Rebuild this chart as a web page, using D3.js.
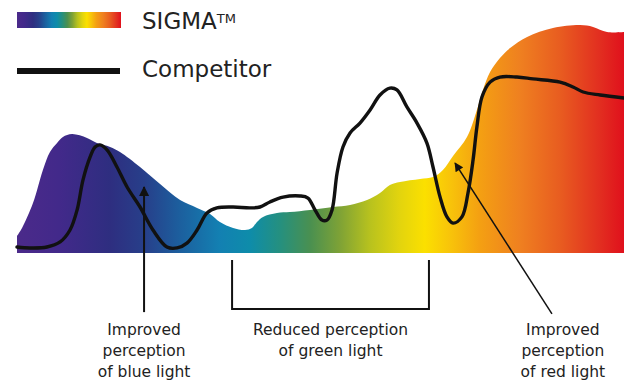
<!DOCTYPE html>
<html>
<head>
<meta charset="utf-8">
<script src="https://cdn.jsdelivr.net/npm/d3@7"></script>
<style>
  html, body { margin: 0; padding: 0; background: #fff; }
  svg { display: block; }
  text { font-family: "DejaVu Sans", sans-serif; fill: #222; }
</style>
</head>
<body>
<svg id="chart" width="624" height="385"></svg>
<script>
// Spectrum (wavelength in nm) and relative intensity of each light source
const sigmaWavelength = [400, 402.5, 407.9, 412.8, 416.3, 419.8, 422.7, 427.2, 434.6, 439.5,
  446.0, 450.9, 460.8, 470.7, 480.6, 489.0, 495.4, 500.3, 506.8, 512.7,
  516.1, 518.6, 521.6, 528.5, 534.9, 544.8, 556.2, 564.6, 573.0, 579.4,
  584.3, 589.3, 599.2, 605.6, 610.5, 615.5, 622.4, 627.3, 630.3, 633.8,
  638.7, 643.7, 652.1, 664.9, 678.3, 684.7, 691.6, 700];
const sigmaIntensity = [7.4, 10.9, 21.7, 36.1, 43.9, 47.8, 50.4, 51.7, 50.0, 47.8,
  46.1, 43.9, 37.4, 30.0, 23.0, 19.6, 17.0, 13.5, 10.9, 10.0,
  10.9, 13.5, 15.7, 17.4, 17.8, 18.7, 20.0, 20.9, 23.0, 26.1,
  29.6, 30.9, 32.2, 33.0, 36.1, 42.2, 50.4, 62.2, 70.9, 78.7,
  84.8, 89.1, 93.9, 97.8, 99.1, 98.3, 96.1, 96.1];

const competitorWavelength = [400, 406.4, 414.8, 421.3, 426.2, 429.7, 432.6, 436.1, 438.6, 441.0,
  444.5, 449.4, 454.4, 460.8, 467.2, 474.1, 479.1, 484.0, 489.0, 493.9,
  498.8, 506.8, 515.2, 520.1, 525.0, 531.5, 539.9, 543.8, 547.3, 550.7,
  553.2, 555.7, 558.2, 561.1, 564.6, 569.5, 574.5, 579.4, 584.3, 587.8,
  592.7, 597.7, 602.6, 605.6, 609.1, 612.5, 615.5, 619.9, 622.9, 625.4,
  627.3, 629.8, 633.8, 638.7, 647.1, 655.0, 668.4, 674.8, 679.8, 688.2, 700];
const competitorIntensity = [2.6, 2.2, 2.6, 4.8, 10.0, 18.7, 31.7, 41.7, 46.1, 47.0,
  44.8, 37.4, 28.7, 20.0, 10.0, 2.6, 2.2, 4.3, 10.0, 17.4,
  19.6, 20.0, 19.6, 20.0, 22.2, 24.3, 24.8, 23.9, 18.7, 14.3,
  14.3, 18.7, 34.8, 46.1, 52.2, 56.5, 62.2, 68.7, 71.7, 70.9,
  63.5, 56.5, 47.8, 37.4, 24.3, 15.7, 13.0, 15.7, 26.1, 40.4,
  54.8, 67.8, 74.3, 76.5, 76.5, 75.7, 74.3, 72.2, 70.0, 68.7, 67.4];

const seriesNames = ["SIGMA", "Competitor"];

// Colour of the visible spectrum along the wavelength axis
const spectrumStops = [
  [400, "#4b2a8a"], [421, "#42298a"], [446, "#2e2e80"], [463, "#273f8a"],
  [480.5, "#1c5f9e"], [500, "#1380b2"], [515, "#0e8caa"], [530, "#25907f"],
  [545, "#4a9050"], [559.5, "#7ea236"], [574.5, "#b8c21e"], [589, "#e2d40e"],
  [601.5, "#fbe000"], [614, "#f8c40a"], [628.5, "#f4a012"], [648.5, "#ef8020"],
  [668.5, "#e85c20"], [688, "#e22e20"], [700, "#e0101c"]
];

const sigma = sigmaWavelength.map((w, i) => ({ w, v: sigmaIntensity[i] }));
const competitor = competitorWavelength.map((w, i) => ({ w, v: competitorIntensity[i] }));

const svg = d3.select("#chart");
const x = d3.scaleLinear().domain([400, 700]).range([17, 624]);
const y = d3.scaleLinear().domain([0, 100]).range([253, 23]);

const defs = svg.append("defs");

// Gradient across the plotting area
const spec = defs.append("linearGradient")
  .attr("id", "spectrum")
  .attr("gradientUnits", "userSpaceOnUse")
  .attr("x1", x(400)).attr("x2", x(700)).attr("y1", 0).attr("y2", 0);
spec.selectAll("stop").data(spectrumStops).join("stop")
  .attr("offset", d => (d[0] - 400) / 300)
  .attr("stop-color", d => d[1]);

// Same colours for the legend swatch
const specLegend = defs.append("linearGradient")
  .attr("id", "spectrumLegend")
  .attr("x1", 0).attr("x2", 1).attr("y1", 0).attr("y2", 0);
specLegend.selectAll("stop").data(spectrumStops).join("stop")
  .attr("offset", d => (d[0] - 400) / 300)
  .attr("stop-color", d => d[1]);

defs.append("marker")
  .attr("id", "arrowHead")
  .attr("viewBox", "0 0 10 10")
  .attr("refX", 9).attr("refY", 5)
  .attr("markerWidth", 5).attr("markerHeight", 5)
  .attr("markerUnits", "strokeWidth")
  .attr("orient", "auto")
  .append("path").attr("d", "M0,0 L10,5 L0,10 Z").attr("fill", "#111");

defs.append("marker")
  .attr("id", "arrowHeadThin")
  .attr("viewBox", "0 0 10 10")
  .attr("refX", 9).attr("refY", 5)
  .attr("markerWidth", 7).attr("markerHeight", 6)
  .attr("markerUnits", "strokeWidth")
  .attr("orient", "auto")
  .append("path").attr("d", "M0,0 L10,5 L0,10 Z").attr("fill", "#111");

// SIGMA spectrum as a filled area
const area = d3.area()
  .x(d => x(d.w))
  .y0(y(0))
  .y1(d => y(d.v))
  .curve(d3.curveCatmullRom.alpha(0.5));

svg.append("path")
  .datum(sigma)
  .attr("d", area)
  .attr("fill", "url(#spectrum)");

// Competitor spectrum as a line
const line = d3.line()
  .x(d => x(d.w))
  .y(d => y(d.v))
  .curve(d3.curveCatmullRom.alpha(0.5));

svg.append("path")
  .datum(competitor)
  .attr("d", line)
  .attr("fill", "none")
  .attr("stroke", "#111")
  .attr("stroke-width", 3.4)
  .attr("stroke-linejoin", "round")
  .attr("stroke-linecap", "round");

// Annotations
const ann = svg.append("g");

// Blue: vertical arrow pointing up into the blue region
ann.append("line")
  .attr("x1", x(462.8)).attr("x2", x(462.8))
  .attr("y1", y(-25.7)).attr("y2", y(28.7))
  .attr("stroke", "#111").attr("stroke-width", 2)
  .attr("marker-end", "url(#arrowHead)");

// Green: bracket under the green region
const bx0 = x(506.3), bx1 = x(603.6), byTop = y(-3), byBot = y(-24.3);
ann.append("path")
  .attr("d", `M${bx0},${byTop} V${byBot} H${bx1} V${byTop}`)
  .attr("fill", "none").attr("stroke", "#111").attr("stroke-width", 2);

// Red: diagonal arrow into the red region
ann.append("line")
  .attr("x1", x(664.4)).attr("y1", y(-26.5))
  .attr("x2", x(616.5)).attr("y2", y(39.1))
  .attr("stroke", "#111").attr("stroke-width", 1.5)
  .attr("marker-end", "url(#arrowHeadThin)");

const labels = [
  { cx: x(462.8), lines: ["Improved", "perception", "of blue light"] },
  { cx: (bx0 + bx1) / 2, lines: ["Reduced perception", "of green light"] },
  { cx: x(669.8), lines: ["Improved", "perception", "of red light"] }
];
labels.forEach(l => {
  ann.append("text")
    .attr("text-anchor", "middle")
    .attr("font-size", 15.5)
    .selectAll("tspan").data(l.lines).join("tspan")
    .attr("x", l.cx)
    .attr("y", (d, i) => 335 + i * 21)
    .text(d => d);
});

// Legend
const legend = svg.append("g");
legend.append("rect")
  .attr("x", 17).attr("y", 12).attr("width", 104).attr("height", 16)
  .attr("fill", "url(#spectrumLegend)");
legend.append("rect")
  .attr("x", 17).attr("y", 68).attr("width", 103).attr("height", 6)
  .attr("fill", "#111");

const sigmaLabel = legend.append("text")
  .attr("x", 142).attr("y", 29)
  .attr("font-size", 23);
sigmaLabel.append("tspan").text(seriesNames[0]);
sigmaLabel.append("tspan").attr("font-size", 13).attr("dy", -6).text("TM");

legend.append("text")
  .attr("x", 142).attr("y", 77)
  .attr("font-size", 23)
  .text(seriesNames[1]);
</script>
</body>
</html>
